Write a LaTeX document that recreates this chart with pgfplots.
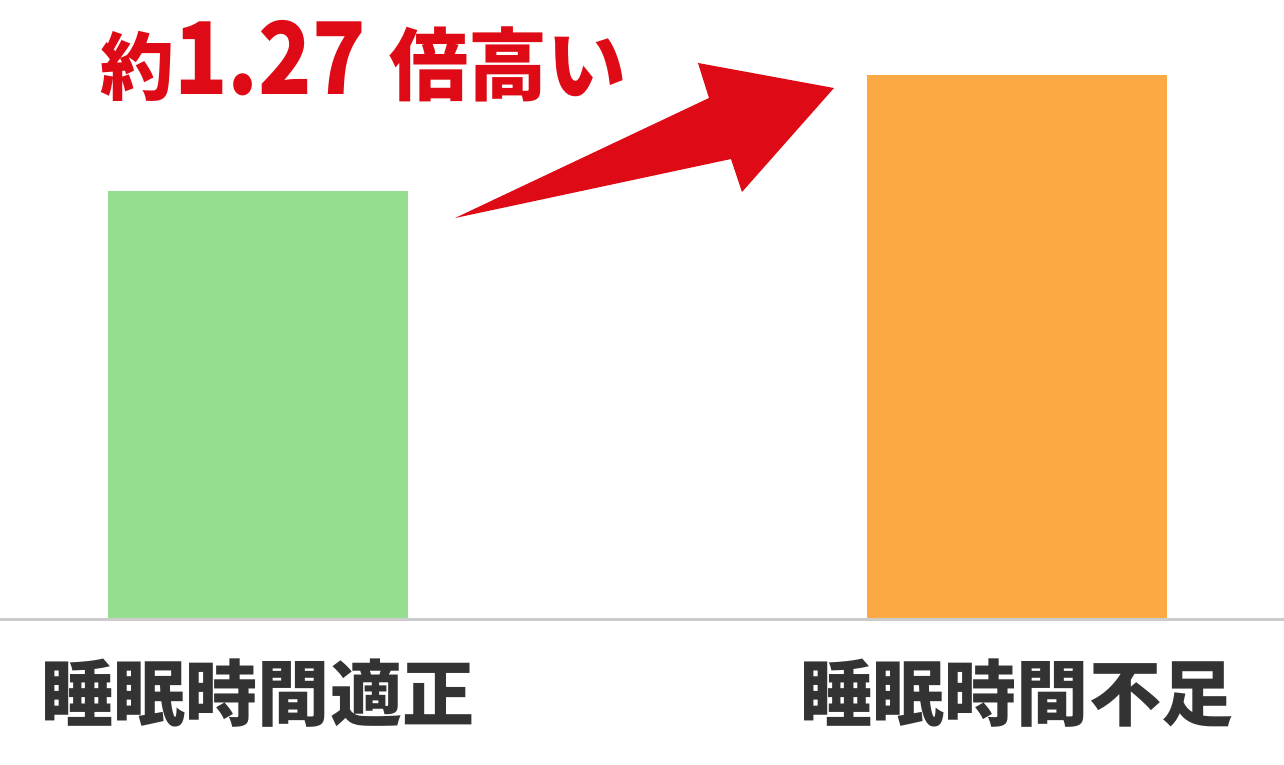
\documentclass[border=0pt]{standalone}
\usepackage{pgfplots}
\pgfplotsset{compat=1.18}
\usepackage{fontspec}
\newfontfamily\cjk{Noto Sans CJK JP}
\definecolor{okgreen}{HTML}{95DE90}
\definecolor{lackorange}{HTML}{FBA944}
\definecolor{hired}{HTML}{DE0B16}
\definecolor{labgray}{HTML}{333333}
\definecolor{basegray}{HTML}{CCCCCC}
\begin{document}
\begin{tikzpicture}
\begin{axis}[
    scale only axis,
    width=25.68cm, height=12.4cm,
    xmin=-0.3399, xmax=1.3518,
    ymin=0, ymax=1.4449,
    ybar, bar width=6cm, bar shift=0pt,
    axis line style={draw=none},
    tick style={draw=none},
    ytick=\empty,
    xtick={0,1},
    xticklabels={睡眠時間適正,睡眠時間不足},
    xticklabel style={anchor=center, yshift=-1.32cm,
        font=\cjk\bfseries\fontsize{41}{48}\selectfont, text=labgray},
    clip=false,
]
\addplot[draw=none, fill=okgreen] coordinates {(0,1.00)};
\addplot[draw=none, fill=lackorange] coordinates {(1,1.27)};

\draw[basegray, line width=0.06cm] (axis cs:-0.3399,0) -- (axis cs:1.3518,0);

% arrow
\fill[hired] (axis cs:0.2596,0.9368) -- (axis cs:0.5942,1.2165)
    -- (axis cs:0.5797,1.2981) -- (axis cs:0.7589,1.2398)
    -- (axis cs:0.6377,0.9974) -- (axis cs:0.6232,1.0743) -- cycle;

\node[overlay, anchor=base west, inner sep=0pt, text=hired, font=\cjk\bfseries]
    at (axis cs:-0.208,1.2235)
    {\fontsize{42}{48}\selectfont 約\fontsize{57}{60}\selectfont\scalebox{0.88}[1]{1.27} \fontsize{45}{48}\selectfont 倍高い};

\coordinate (bl) at (rel axis cs:0,0);
\coordinate (tr) at (rel axis cs:1,1);
\end{axis}
\pgfresetboundingbox
\path (bl) ++(0,-2.9cm) rectangle (tr);
\end{tikzpicture}
\end{document}
